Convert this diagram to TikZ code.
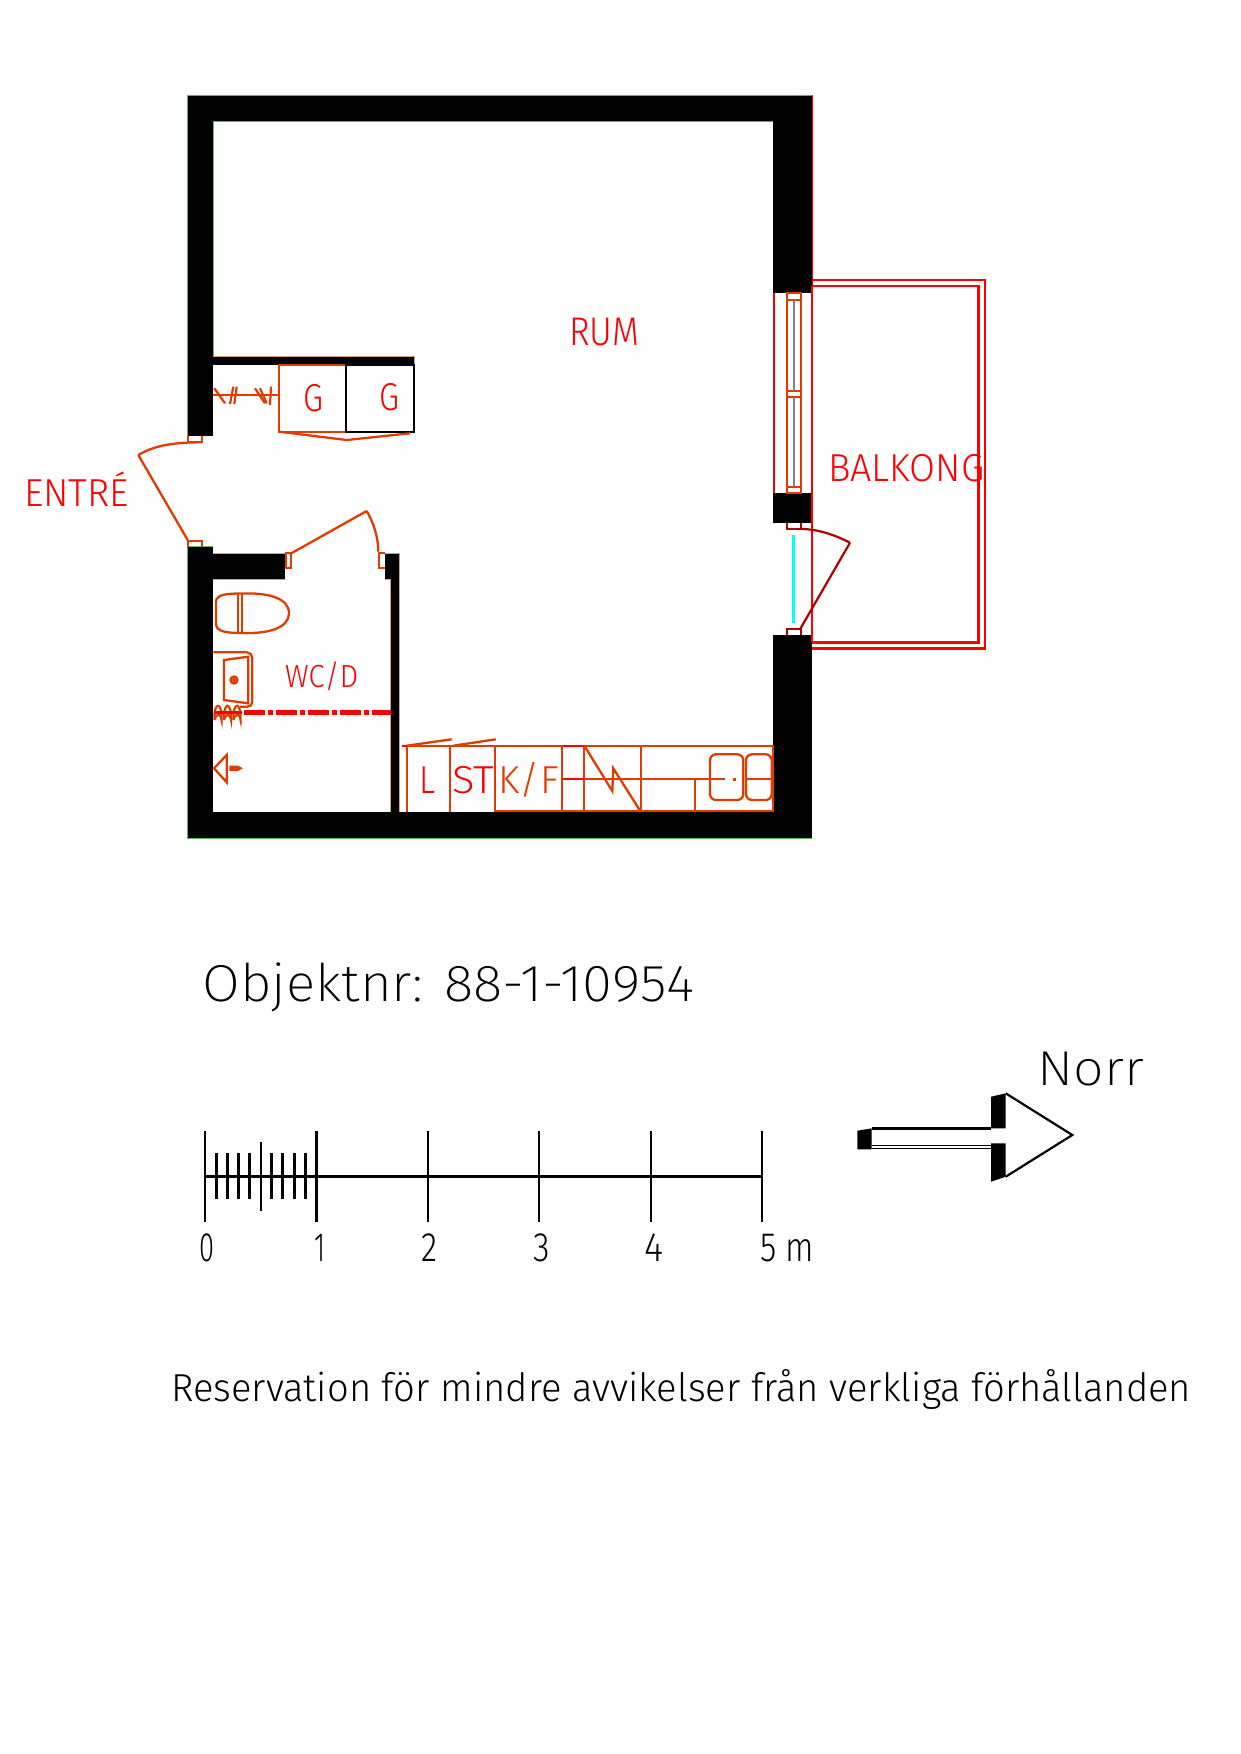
\documentclass[tikz,border=0pt]{standalone}
\usepackage{fontspec}
\newfontfamily\isofont{Fira Sans}[UprightFont=* Light]
\newfontfamily\isothin{Fira Sans}[UprightFont=* ExtraLight]
\definecolor{planred}{HTML}{FF0000}
\definecolor{planorange}{HTML}{E03C00}
\definecolor{doorred}{HTML}{B00000}
\definecolor{edgegreen}{HTML}{5CB85C}
\definecolor{edgetan}{HTML}{D9A066}
\definecolor{glasscyan}{HTML}{00FFFF}
\definecolor{glassgray}{HTML}{808080}
% width, font size, text
\newcommand{\fittext}[3]{\resizebox{#1pt}{\height}{\fontsize{#2}{#2}\isofont #3}}
\newcommand{\fitthin}[3]{\resizebox{#1pt}{\height}{\fontsize{#2}{#2}\isothin #3}}
\tikzset{
  wall/.style={fill=black},
  fixture/.style={draw=planorange, line width=2.3pt},
  finetick/.style={draw=planorange, line width=2.2pt},
  redline/.style={draw=planred, line width=2.6pt},
  thinred/.style={draw=planred, line width=1.7pt},
  doorline/.style={draw=doorred, line width=2.2pt},
  plantext/.style={anchor=base west, inner sep=0pt, text=black},
  roomtext/.style={plantext, text=planred}
}
\begin{document}
\begin{tikzpicture}[x=1pt, y=-1pt]
    \useasboundingbox (0,0) rectangle (1240,1754);

    % walls
    \fill[wall] (187.7,95) rectangle (811.7,121);
    \fill[wall] (187.7,95) rectangle (213.3,435.7);
    \fill[wall] (772.7,95) rectangle (811.7,293.3);
    \fill[wall] (772.7,493.3) rectangle (811.7,522.7);
    \fill[wall] (772.7,635) rectangle (811.7,838.3);
    \fill[wall] (187.7,546.7) rectangle (213.3,838.3);
    \fill[wall] (187.7,811.7) rectangle (811.7,838.3);
    \fill[wall] (187.7,553.3) rectangle (285,579);
    \fill[wall] (385,553.3) rectangle (399.3,579);
    \fill[wall] (390.7,553.3) rectangle (399.3,811.7);
    \fill[wall] (213.3,356.7) rectangle (414.3,365);
    \draw[edgegreen, line width=0.8pt] (187.7,435.7) -- (187.7,95) -- (811.7,95);
    \draw[edgegreen, line width=0.8pt] (213.3,356) -- (213.3,121) -- (772.7,121);
    \draw[edgegreen, line width=0.8pt] (187.7,546.7) -- (213.3,546.7);
    \draw[edgegreen, line width=0.8pt] (187.7,546.7) -- (187.7,838.3) -- (811.7,838.3);
    \draw[edgetan, line width=0.8pt] (213.3,356.7) -- (414.3,356.7) -- (414.3,364);
    \draw[edgetan, line width=0.8pt] (213.3,553.3) -- (285,553.3);
    \draw[edgetan, line width=0.8pt] (213.3,579) -- (285,579);
    \draw[edgetan, line width=0.8pt] (385,553.3) -- (399.3,553.3) -- (399.3,811.7);
    \draw[edgetan, line width=0.8pt] (385,579) -- (390.7,579) -- (390.7,811.7);
    \draw[planred, line width=0.8pt] (811.9,95) -- (811.9,293.3);

    % closet
    \draw[fixture] (346,365) -- (279.3,365) -- (279.3,431.7) -- (346,431.7);
    \draw[black, line width=2.2pt] (346,365) rectangle (414.3,431.7);
    \draw[fixture] (279.3,431.7) -- (346.7,440) -- (410,433.3);
    \draw[fixture] (213.3,395.3) -- (279.3,395.3);
    \draw[finetick] (214.3,388.3) -- (225,403.3);
    \draw[finetick] (233.3,386.7) -- (230,404);
    \draw[finetick] (236.7,386.7) -- (234.3,404);
    \draw[finetick] (255,388.3) -- (265,403.3);
    \draw[finetick] (260,388.3) -- (266.7,403.3);
    \draw[finetick] (271,386.7) -- (270,405);

    % entrance door
    \draw[fixture] (187.7,435.7) -- (187.7,442.3) -- (202.3,442.3) -- (202.3,435.7);
    \draw[fixture] (202.3,442.3) .. controls (175,442.3) and (155,445) .. (138.3,455);
    \draw[fixture] (138.3,455) -- (187.7,540);
    \draw[fixture] (187.7,546.7) -- (187.7,540.7) -- (202.3,540.7) -- (202.3,546.7);

    % wc door
    \draw[fixture] (285.7,553.3) rectangle (291.3,568);
    \draw[fixture] (291.3,553.3) -- (366.7,511);
    \draw[fixture] (366.7,511) .. controls (373,522) and (378,535) .. (378.3,551.7);
    \draw[fixture] (385,553.3) -- (379,553.3) -- (379,568) -- (385,568);

    % toilet
    \draw[fixture] (242,593.5) .. controls (228,593.5) and (216,594) .. (216,602)
        -- (216,624) .. controls (216,632) and (228,633) .. (242,633)
        .. controls (268,634) and (289,628) .. (289,613.3)
        .. controls (289,598) and (268,592.5) .. (242,593.5);
    \draw[fixture] (237.7,593.5) -- (237.7,633);
    \draw[fixture] (242.3,593.5) -- (242.3,633);

    % sink
    \draw[fixture] (213.3,652.3) -- (247,652.3) .. controls (250,652.3) and (252.3,655) .. (252.3,658)
        -- (252.3,702) .. controls (252.3,705) and (250,706.7) .. (247,706.7) -- (240,706.7);
    \draw[fixture] (224,660) -- (248.3,656.7) -- (248.3,703.3) -- (224,700) -- cycle;
    \draw[fixture] (234,680) circle (3.5pt);
    \fill[planorange] (234,680) circle (2pt);

    % floor heating coil and dash-dot line
    \foreach \cx in {214.5,224,233.5} {
        \draw[finetick] (\cx,720) .. controls (\cx-1,701) and (\cx+8,701) .. (\cx+7,720)
            .. controls (\cx+6,713) and (\cx+2,713) .. (\cx,720);
    }
    \draw[planred, line width=2.4pt] (214,712.3) -- (242,712.3);
    \draw[planred, line width=4.6pt, dash pattern=on 21pt off 3.3pt on 5pt off 2.7pt] (244,712.3) -- (390.7,712.3);

    % floor drain
    \draw[fixture] (214,768.3) -- (226.7,755) -- (226.7,782.3) -- cycle;
    \fill[planorange] (229.3,765.5) -- (238,765.5) -- (242.7,768.3) -- (238,771) -- (229.3,771) -- cycle;

    % kitchen
    \draw[fixture] (406.7,811.7) -- (406.7,745.7) -- (772.7,745.7) -- (772.7,811.7);
    \draw[planred, line width=2.3pt] (401.7,745.7) -- (406.7,745.7);
    \foreach \kx in {450,495,562.3,584.3,640.7} {
        \draw[fixture] (\kx,745.7) -- (\kx,811.7);
    }
    \draw[fixture] (495,810.8) -- (772.7,810.8);
    \draw[fixture] (695.3,811.7) -- (695.3,779.3);
    \draw[fixture] (562.3,779.3) -- (725,779.3);
    \draw[planred, line width=2.3pt] (563,779.3) -- (584.3,779.3);
    \draw[planred, line width=2.3pt] (563,745.7) -- (584.3,745.7);
    \fill[planorange] (732.5,777.8) rectangle (736,781);
    \draw[fixture] (745,779.3) -- (772.7,779.3);
    \draw[fixture] (406.7,745.7) -- (451.7,739.3);
    \draw[fixture] (453.3,745.7) -- (495.7,739.3);
    \draw[fixture] (584.3,745.7) -- (612.3,791) -- (613.3,768.3) -- (640.7,811.7);
    \draw[fixture, rounded corners=6pt] (710,754.3) rectangle (743.3,800);
    \draw[fixture, rounded corners=6pt] (746,754.3) rectangle (771.7,800);

    % window
    \draw[thinred] (773.7,293.3) -- (773.7,493.3);
    \draw[fixture] (786.7,293.3) rectangle (801,493.3);
    \foreach \wy in {300,391,396.7,487.3} {
        \draw[finetick] (786.7,\wy) -- (801,\wy);
    }
    \draw[glassgray, line width=2.2pt] (793.7,300) -- (793.7,391);
    \draw[glassgray, line width=2.2pt] (793.7,396.7) -- (793.7,487.3);

    % balcony
    \draw[redline] (811.7,280) -- (985,280) -- (985,648.3) -- (811.7,648.3);
    \draw[redline] (811.7,286) -- (978.3,286) -- (978.3,642.3) -- (811.7,642.3);
    \draw[thinred] (812.2,286) -- (812.2,642.3);

    % balcony door
    \draw[doorline] (786.7,522.7) -- (786.7,529) -- (801,529) -- (801,522.7);
    \draw[doorline] (801,529) .. controls (818,529) and (835,535) .. (850,542.7);
    \draw[doorline] (850,542.7) -- (800,629.3);
    \draw[doorline] (786.7,635) -- (786.7,629) -- (801,629) -- (801,635);
    \draw[glasscyan, line width=3pt] (793.3,535) -- (793.3,622.7);

    % room labels
    \node[roomtext] (rum) at (569,345) {\fittext{70}{40}{RUM}};
    \node[roomtext] (balkong) at (828,481.7) {\fittext{156}{39}{BALKONG}};
    \node[roomtext] (entre) at (24,506.7) {\fittext{105}{39}{ENTRÉ}};
    \node[roomtext] (wcd) at (285,687.3) {\fittext{73}{32}{WC/D}};
    \node[roomtext] (g1) at (303.5,411.7) {\fittext{20}{39}{G}};
    \node[roomtext] (g2) at (379.5,410.7) {\fittext{20}{39}{G}};
    \node[roomtext] (kl) at (419,793.3) {\fittext{16}{39}{L}};
    \node[roomtext] (kst) at (452,793.3) {\fittext{42}{39}{ST}};
    \node[roomtext, text=planorange] (kf) at (498.5,793.3) {\fittext{60}{39}{K/F}};

    % object number
    \node[plantext] (objekt) at (202.5,1001.7) {\fitthin{492}{52}{Objektnr: 88-1-10954}};

    % scale bar
    \draw[black, line width=3pt] (205,1176) -- (762,1176);
    \foreach \tx in {0,...,5} {
        \draw[black, line width=2.2pt] (205+111.4*\tx,1131) -- (205+111.4*\tx,1221.7);
    }
    \foreach \tx in {1,2,3,4,6,7,8,9} {
        \draw[black, line width=3pt] (205+11.14*\tx,1153.3) -- (205+11.14*\tx,1199);
    }
    \draw[black, line width=2pt] (260.7,1141.7) -- (260.7,1210.7);
    \node[plantext] (s0) at (199.5,1261.7) {\fittext{15}{41}{0}};
    \node[plantext] (s1) at (314,1261.7) {\fittext{11}{41}{1}};
    \node[plantext] (s2) at (421,1261.7) {\fittext{16}{41}{2}};
    \node[plantext] (s3) at (533.5,1261.7) {\fittext{16.5}{41}{3}};
    \node[plantext] (s4) at (644,1261.7) {\fittext{19}{41}{4}};
    \node[plantext] (s5) at (760,1261.7) {\fittext{54}{41}{5 m}};

    % north arrow
    \fill[black] (991,1096.7) -- (1005.7,1093.3) -- (1005.7,1128.3) -- (991,1128.3) -- cycle;
    \fill[black] (991,1143.3) -- (1005.7,1143.3) -- (1005.7,1176.7) -- (991,1181.7) -- cycle;
    \fill[black] (857.3,1130.7) -- (871.7,1128.3) -- (871.7,1149.3) -- (857.3,1149.3) -- cycle;
    \draw[black, line width=2.2pt] (1005.7,1093.3) -- (1072.3,1135) -- (1005.7,1176.7);
    \draw[black, line width=2.4pt] (871.7,1128.3) -- (991,1128.3);
    \draw[black, line width=1.8pt] (871.7,1145.5) -- (991,1145.5);
    \draw[black, line width=1.4pt] (871.7,1148.6) -- (991,1148.6);
    \node[plantext] (norr) at (1037.5,1085) {\fitthin{106.5}{49}{Norr}};

    % reservation note
    \node[plantext] (note) at (171,1401.7) {\fittext{1020}{39}{Reservation för mindre avvikelser från verkliga förhållanden}};
\end{tikzpicture}
\end{document}
